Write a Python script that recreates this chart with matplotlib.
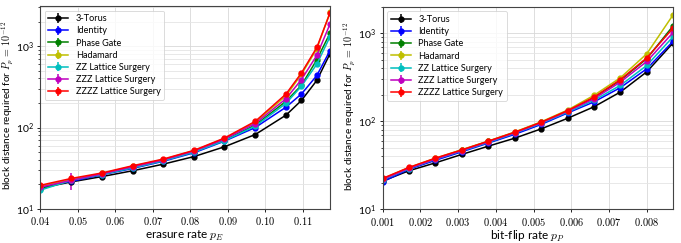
import matplotlib
matplotlib.use("Agg")
import matplotlib.pyplot as plt
from matplotlib.ticker import FuncFormatter

plt.rcParams['mathtext.fontset'] = 'cm'
plt.rcParams['font.family'] = ['Lato', 'DejaVu Sans']

labels = ["3-Torus", "Identity", "Phase Gate", "Hadamard",
          "ZZ Lattice Surgery", "ZZZ Lattice Surgery", "ZZZZ Lattice Surgery"]
colors = ["k", "b", "g", "y", "c", "m", "r"]

# Left panel: erasure rate
x_erasure = [0.0400, 0.0483, 0.0565, 0.0647, 0.0728, 0.0810, 0.0891, 0.0973,
             0.1055, 0.1096, 0.1137, 0.1172]
erasure_torus = [18.0, 21.5, 25.0, 29.5, 35.5, 44.0, 58.0, 82.0, 142, 215, 379, 805]
erasure_identity = [18.5, 21.8, 26.3, 31.5, 38.5, 49.0, 68.0, 100, 178, 258, 435, 880]
erasure_phase = [17.5, 22.5, 26.8, 32.5, 39.5, 50.5, 70.0, 107, 210, 330, 680, 1440]
erasure_hadamard = [19.0, 23.0, 27.3, 33.5, 40.5, 52.0, 73.0, 116, 245, 450, 925, 2600]
erasure_zz = [17.0, 22.5, 26.5, 32.0, 39.0, 50.0, 69.0, 104, 198, 322, 600, 1300]
erasure_zzz = [18.5, 22.5, 27.0, 33.0, 40.0, 51.5, 72.0, 112, 226, 388, 770, 1860]
erasure_zzzz = [19.5, 23.7, 27.7, 34.0, 41.0, 52.5, 74.3, 119, 258, 467, 963, 2540]

err_erasure_torus = [0.5, 0.5, 0, 0, 0, 0, 0, 0, 0, 0, 0, 0]
err_erasure_identity = [0.8, 0.8, 0, 0, 0, 0, 0, 0, 0, 0, 0, 0]
err_erasure_phase = [3.0, 1.0, 0, 0, 0, 0, 0, 0, 0, 0, 0, 0]
err_erasure_hadamard = [2.0, 1.0, 0, 0, 0, 0, 0, 0, 0, 0, 0, 0]
err_erasure_zz = [12.0, 1.5, 0, 0, 0, 0, 0, 0, 0, 0, 0, 0]
err_erasure_zzz = [3.0, 5.5, 0, 0, 0, 0, 0, 0, 0, 0, 0, 0]
err_erasure_zzzz = [4.5, 2.0, 0, 0, 0, 0, 0, 0, 0, 0, 0, 0]

# Right panel: bit-flip rate
x_bitflip = [0.0010, 0.0017, 0.0024, 0.0031, 0.0038, 0.0045, 0.0052, 0.0059,
             0.0066, 0.0073, 0.0080, 0.0087]
bitflip_torus = [20.9, 27.4, 33.7, 42.0, 52.1, 64.2, 81.9, 108, 146, 215, 365, 780]
bitflip_identity = [20.5, 28.5, 36.0, 45.0, 56.5, 71.0, 92.0, 124, 166, 241, 395, 815]
bitflip_phase = [22.0, 29.5, 37.5, 47.0, 59.0, 74.5, 97.0, 131, 186, 292, 515, 1220]
bitflip_hadamard = [22.2, 29.8, 38.0, 47.5, 59.5, 75.5, 98.5, 134, 197, 312, 585, 1630]
bitflip_zz = [21.5, 29.0, 37.0, 46.0, 57.5, 73.0, 94.5, 127, 173, 256, 431, 918]
bitflip_zzz = [21.8, 29.3, 37.3, 46.5, 58.5, 74.0, 96.0, 130, 180, 279, 478, 1025]
bitflip_zzzz = [22.4, 29.9, 38.1, 47.3, 59.4, 75.0, 97.4, 132, 188, 297, 526, 1150]

erasure_series = [erasure_torus, erasure_identity, erasure_phase, erasure_hadamard,
                  erasure_zz, erasure_zzz, erasure_zzzz]
erasure_errs = [err_erasure_torus, err_erasure_identity, err_erasure_phase,
                err_erasure_hadamard, err_erasure_zz, err_erasure_zzz, err_erasure_zzzz]
bitflip_series = [bitflip_torus, bitflip_identity, bitflip_phase, bitflip_hadamard,
                  bitflip_zz, bitflip_zzz, bitflip_zzzz]

fig = plt.figure(figsize=(6.81, 2.43), dpi=100)
axL = fig.add_axes([40 / 681, 34 / 243, 290 / 681, 203 / 243])
axR = fig.add_axes([382.5 / 681, 33.7 / 243, 290.8 / 681, 202.6 / 243])

ylabel = r"block distance required for $P_p\,=\,10^{-12}$"


def style(ax, xlim, ylim, fmt, xlabel, label_x):
    ax.set_yscale("log")
    ax.set_xlim(*xlim)
    ax.set_ylim(*ylim)
    ax.grid(True, which="major", color="#d8d8d8", lw=0.6)
    ax.grid(True, which="minor", axis="y", color="#e4e4e4", lw=0.6)
    ax.set_axisbelow(True)
    ax.xaxis.set_major_formatter(FuncFormatter(lambda v, p: r"$" + (fmt % v) + r"$"))
    ax.tick_params(labelsize=7.5, length=2.5, width=0.6, pad=2)
    ax.tick_params(which="minor", length=1.5, width=0.5)
    for s in ax.spines.values():
        s.set_color("#444444")
        s.set_linewidth(0.8)
    ax.set_xlabel(xlabel, fontsize=8.5, labelpad=1)
    ax.set_ylabel(ylabel, fontsize=7.2)
    ax.yaxis.set_label_coords(label_x, 0.51)
    leg = ax.legend(loc="upper left", fontsize=6.6, frameon=True, fancybox=True,
                    borderpad=0.4, labelspacing=0.35, handlelength=2.2,
                    handletextpad=0.8, borderaxespad=0.5)
    leg.get_frame().set_linewidth(0.6)
    leg.get_frame().set_edgecolor("#cccccc")


for ys, es, c, lab in zip(erasure_series, erasure_errs, colors, labels):
    axL.errorbar(x_erasure, ys, yerr=es, color=c, marker="o", ms=3.5, lw=1.1,
                 elinewidth=1.1, capsize=0, label=lab)
for ys, c, lab in zip(bitflip_series, colors, labels):
    axR.errorbar(x_bitflip, ys, yerr=[0] * len(ys), color=c, marker="o", ms=3.5,
                 lw=1.1, elinewidth=1.1, capsize=0, label=lab)

style(axL, (0.04, 0.1172), (10, 3100), "%.2f", r"erasure rate $p_E$", -0.085)
axL.set_xticks([0.04, 0.05, 0.06, 0.07, 0.08, 0.09, 0.10, 0.11])
style(axR, (0.001, 0.0087), (10, 2000), "%.3f", r"bit-flip rate $p_P$", -0.087)
axR.set_xticks([0.001, 0.002, 0.003, 0.004, 0.005, 0.006, 0.007, 0.008])

fig.savefig("out.png", dpi=100)
